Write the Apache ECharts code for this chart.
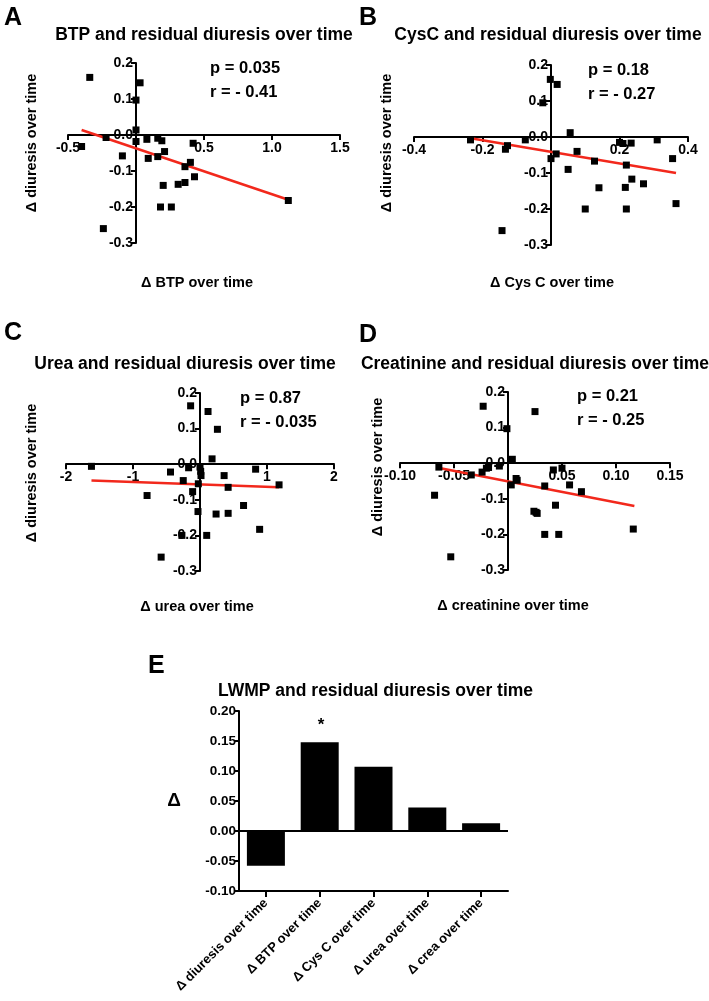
<!DOCTYPE html>
<html><head><meta charset="utf-8">
<script src="https://cdn.jsdelivr.net/npm/echarts@6/dist/echarts.min.js"></script>
<style>html,body{margin:0;padding:0;background:#fff}#c{width:709px;height:1001px}</style>
</head><body><div id="c"></div>
<script>
// ---- data ----
var diuresisA = [0.16, 0.145, 0.097, 0.014, -0.018, -0.032, -0.007, -0.058, -0.012, -0.065, -0.009, -0.016, -0.046, -0.06, -0.14, -0.20, -0.20, -0.137, -0.132, -0.088, -0.076, -0.023, -0.116, -0.26, -0.182];
var btpX      = [-0.34, 0.03, 0.0, 0.0, 0.0, -0.40, -0.22, -0.10, 0.08, 0.09, 0.16, 0.19, 0.21, 0.16, 0.20, 0.18, 0.26, 0.31, 0.36, 0.36, 0.40, 0.42, 0.43, -0.24, 1.12];
var btpLine   = [[-0.40, 0.014], [1.12, -0.180]];

var cysX      = [-0.002, 0.018, -0.024, 0.056, -0.235, -0.127, -0.133, -0.075, 0.0, 0.015, 0.05, 0.076, 0.127, 0.14, 0.10, 0.20, 0.21, 0.234, 0.22, 0.217, 0.236, 0.22, 0.27, 0.31, 0.355, 0.365, -0.143];
var diuresisB = [0.16, 0.146, 0.095, 0.012, -0.008, -0.024, -0.034, -0.008, -0.06, -0.047, -0.09, -0.04, -0.067, -0.141, -0.20, -0.015, -0.018, -0.017, -0.078, -0.14, -0.117, -0.20, -0.13, -0.008, -0.06, -0.185, -0.26];
var cysLine   = [[-0.23, -0.004], [0.365, -0.100]];

var ureaX     = [-0.14, 0.12, 0.26, 0.18, -1.62, -0.44, -0.17, 0.0, 0.015, -0.25, -0.025, -0.11, 0.36, 0.42, 1.18, 0.83, -0.79, -0.03, 0.24, 0.42, 0.65, 0.89, -0.27, 0.10, -0.58, 0.01];
var diuresisC = [0.164, 0.148, 0.098, 0.015, -0.006, -0.022, -0.01, -0.008, -0.032, -0.046, -0.055, -0.077, -0.032, -0.065, -0.058, -0.014, -0.088, -0.133, -0.14, -0.138, -0.116, -0.183, -0.20, -0.20, -0.261, -0.02];
var ureaLine  = [[-1.62, -0.046], [1.18, -0.065]];

var creaX     = [-0.023, 0.025, -0.001, 0.004, -0.064, -0.034, -0.024, -0.020, -0.018, -0.008, 0.003, 0.0075, 0.0085, 0.034, 0.042, 0.050, 0.057, 0.068, -0.068, 0.024, 0.026, 0.027, 0.044, 0.034, 0.047, 0.116, -0.053];
var diuresisD = [0.16, 0.145, 0.097, 0.011, -0.011, -0.033, -0.025, -0.014, -0.012, -0.008, -0.061, -0.043, -0.048, -0.064, -0.019, -0.014, -0.061, -0.080, -0.090, -0.135, -0.138, -0.141, -0.118, -0.20, -0.20, -0.185, -0.263];
var creaLine  = [[-0.066, -0.012], [0.117, -0.120]];

var lwmpCategories = ['\u0394 diuresis over time', '\u0394 BTP over time', '\u0394 Cys C over time', '\u0394 urea over time', '\u0394 crea over time'];
var lwmpValues = [-0.058, 0.148, 0.107, 0.039, 0.013];

var statsText = [['p = 0.035', 'r = - 0.41'], ['p = 0.18', 'r = - 0.27'], ['p = 0.87', 'r = - 0.035'], ['p = 0.21', 'r = - 0.25']];

// x range: [min, max, interval, decimals]
var xRanges = [[-0.5, 1.5, 0.5, 1], [-0.4, 0.4, 0.2, 1], [-2, 2, 1, 0], [-0.10, 0.15, 0.05, 2]];
var yRange = [-0.3, 0.2, 0.1];

function zip(xs, ys) { return xs.map(function (x, i) { return [x, ys[i]]; }); }

var FONT = 'Liberation Sans, Arial, sans-serif';
var black = '#000';
var red = '#f2281c';

var grids = [
  {left: 68, top: 63, width: 272, height: 180},
  {left: 414, top: 65, width: 274, height: 180},
  {left: 66, top: 393, width: 268, height: 178},
  {left: 400, top: 392, width: 270, height: 178},
  {left: 239, top: 711, width: 269, height: 180}
];

function axisBase() {
  return {
    axisLine: {show: true, onZero: false, lineStyle: {color: black, width: 2}},
    axisTick: {show: true, length: 5, lineStyle: {color: black, width: 2}},
    splitLine: {show: false},
    axisLabel: {color: black, fontWeight: 'bold', fontSize: 14, fontFamily: FONT}
  };
}

var xAxes = [], yAxes = [], series = [];
xRanges.forEach(function (r, i) {
  var g = grids[i];
  var xa = axisBase();
  xa.type = 'value'; xa.gridIndex = i; xa.min = r[0]; xa.max = r[1]; xa.interval = r[2];
  xa.position = 'bottom';
  // place the x axis where y = 0 (GraphPad style crossing axes)
  xa.offset = -g.height * (0 - yRange[0]) / (yRange[1] - yRange[0]);
  xa.axisLabel.margin = 6;
  xa.axisLabel.formatter = (function (d) { return function (v) { return Math.abs(v) < 1e-9 ? '' : v.toFixed(d); }; })(r[3]);
  xAxes.push(xa);
  var ya = axisBase();
  ya.type = 'value'; ya.gridIndex = i; ya.min = yRange[0]; ya.max = yRange[1]; ya.interval = yRange[2];
  ya.position = 'left';
  // place the y axis where x = 0
  ya.offset = -g.width * (0 - r[0]) / (r[1] - r[0]);
  ya.axisLabel.margin = 3;
  ya.axisLabel.formatter = function (v) { return v.toFixed(1); };
  yAxes.push(ya);
});

var scatterData = [zip(btpX, diuresisA), zip(cysX, diuresisB), zip(ureaX, diuresisC), zip(creaX, diuresisD)];
var lines = [btpLine, cysLine, ureaLine, creaLine];
scatterData.forEach(function (d, i) {
  series.push({type: 'line', xAxisIndex: i, yAxisIndex: i, data: lines[i], symbol: 'none', lineStyle: {color: red, width: 2.5}, z: 2, silent: true});
  series.push({type: 'scatter', xAxisIndex: i, yAxisIndex: i, data: d, symbol: 'rect', symbolSize: 7, itemStyle: {color: black, opacity: 1}, z: 3});
});

// bar panel E
var xe = axisBase();
xe.type = 'category'; xe.gridIndex = 4; xe.data = lwmpCategories;
xe.axisTick.alignWithLabel = true; xe.axisTick.length = 6;
xe.axisLabel.rotate = 45; xe.axisLabel.fontSize = 13; xe.axisLabel.margin = 10; xe.axisLabel.interval = 0;
xAxes.push(xe);
var ye = axisBase();
ye.type = 'value'; ye.gridIndex = 4; ye.min = -0.10; ye.max = 0.20; ye.interval = 0.05;
ye.axisLabel.fontSize = 13.5; ye.axisLabel.margin = 3;
ye.axisLabel.formatter = function (v) { return v.toFixed(2); };
yAxes.push(ye);
series.push({
  type: 'bar', xAxisIndex: 4, yAxisIndex: 4, data: lwmpValues, barWidth: 38,
  itemStyle: {color: black},
  markLine: {silent: true, symbol: 'none', label: {show: false}, lineStyle: {color: black, width: 2, type: 'solid'}, data: [{yAxis: 0}]}
});

function txt(x, y, s, size, opts) {
  opts = opts || {};
  return {type: 'text', x: x, y: y, rotation: opts.rot || 0, z: 10,
    style: {text: s, fill: black, font: 'bold ' + size + 'px ' + FONT, textAlign: opts.align || 'center', textVerticalAlign: opts.va || 'middle'}};
}

var graphics = [
  txt(4, 18, 'A', 25, {align: 'left'}),
  txt(359, 18, 'B', 25, {align: 'left'}),
  txt(4, 333, 'C', 25, {align: 'left'}),
  txt(359, 335, 'D', 25, {align: 'left'}),
  txt(148, 666, 'E', 25, {align: 'left'}),
  txt(204, 35, 'BTP and residual diuresis over time', 17.5),
  txt(548, 35, 'CysC and residual diuresis over time', 17.5),
  txt(185, 364, 'Urea and residual diuresis over time', 17.5),
  txt(535, 364, 'Creatinine and residual diuresis over time', 17.5),
  txt(218, 691, 'LWMP and residual diuresis over time', 17.5, {align: 'left'}),
  txt(197, 283, '\u0394 BTP over time', 14.5),
  txt(552, 283, '\u0394 Cys C over time', 14.5),
  txt(197, 607, '\u0394 urea over time', 14.5),
  txt(513, 606, '\u0394 creatinine over time', 14.5),
  txt(32, 143, '\u0394 diuresis over time', 14.5, {rot: Math.PI / 2}),
  txt(387, 143, '\u0394 diuresis over time', 14.5, {rot: Math.PI / 2}),
  txt(32, 473, '\u0394 diuresis over time', 14.5, {rot: Math.PI / 2}),
  txt(378, 467, '\u0394 diuresis over time', 14.5, {rot: Math.PI / 2}),
  txt(174, 801, '\u0394', 19),
  txt(321, 725, '*', 17)
];
var statPos = [[210, 68], [588, 70], [240, 398], [577, 396]];
statsText.forEach(function (s, i) {
  graphics.push(txt(statPos[i][0], statPos[i][1], s[0], 16.5, {align: 'left'}));
  graphics.push(txt(statPos[i][0], statPos[i][1] + 24, s[1], 16.5, {align: 'left'}));
});

var chart = echarts.init(document.getElementById('c'), null, {renderer: 'canvas'});
chart.setOption({
  animation: false,
  backgroundColor: '#fff',
  grid: grids,
  xAxis: xAxes,
  yAxis: yAxes,
  series: series,
  graphic: graphics
});
</script></body></html>
